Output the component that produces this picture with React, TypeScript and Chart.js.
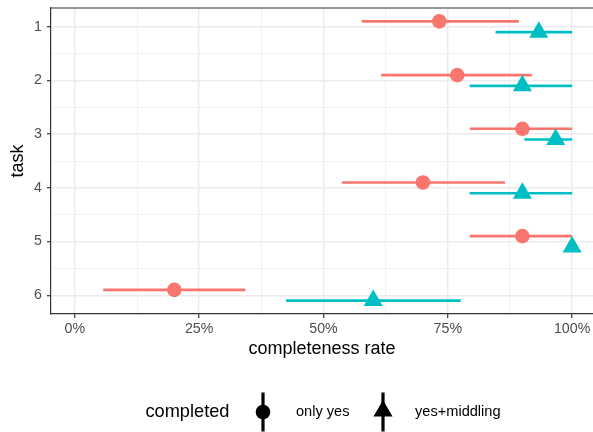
import { useEffect, useRef } from "react";
import { Chart, registerables } from "chart.js";

Chart.register(...registerables);

// ---- data ----
const tasks = [1, 2, 3, 4, 5, 6];
const seriesNames = ["only yes", "yes+middling"];
const onlyYes = [0.733, 0.769, 0.9, 0.7, 0.9, 0.2];
const onlyYesLow = [0.577, 0.616, 0.794, 0.537, 0.794, 0.057];
const onlyYesHigh = [0.893, 0.919, 1.0, 0.865, 1.0, 0.343];
const yesMiddling = [0.933, 0.9, 0.967, 0.9, 1.0, 0.6];
const yesMiddlingLow = [0.846, 0.794, 0.904, 0.794, 1.0, 0.425];
const yesMiddlingHigh = [1.0, 1.0, 1.0, 1.0, 1.0, 0.776];
const xMajorTicks = [0, 0.25, 0.5, 0.75, 1];
const xMinorTicks = [0.125, 0.375, 0.625, 0.875];
const yMinorTicks = [1.5, 2.5, 3.5, 4.5, 5.5];
const legendTitle = "completed";
const xTitle = "completeness rate";
const yTitle = "task";

const FONT = "'Liberation Sans', Arial, Helvetica, sans-serif";
const RED = "#F8766D";
const TEAL = "#00BFC4";
const DODGE = 0.1;

const isMajorX = (v: number) => xMajorTicks.some((t) => Math.abs(t - v) < 1e-9);
const isMajorY = (v: number) => tasks.some((t) => Math.abs(t - v) < 1e-9);

const errorBarPlugin = {
  id: "errorBars",
  beforeDatasetsDraw(chart: any) {
    const { ctx, scales, chartArea } = chart;
    const xs = scales.x;
    const ys = scales.y;
    ctx.save();
    ctx.beginPath();
    ctx.rect(chartArea.left, chartArea.top, chartArea.right - chartArea.left, chartArea.bottom - chartArea.top);
    ctx.clip();
    chart.data.datasets.forEach((ds: any) => {
      ctx.strokeStyle = ds.backgroundColor;
      ctx.lineWidth = 2.6;
      ctx.lineCap = "butt";
      ds.data.forEach((p: any) => {
        if (p.hi - p.lo <= 0) return;
        const py = ys.getPixelForValue(p.y);
        ctx.beginPath();
        ctx.moveTo(xs.getPixelForValue(p.lo), py);
        ctx.lineTo(xs.getPixelForValue(p.hi), py);
        ctx.stroke();
      });
    });
    ctx.restore();
  },
};

const framePlugin = {
  id: "frameAndLegend",
  afterDraw(chart: any) {
    const { ctx, chartArea } = chart;
    ctx.save();
    // top panel border
    ctx.strokeStyle = "#333333";
    ctx.lineWidth = 1.2;
    ctx.beginPath();
    ctx.moveTo(chartArea.left, chartArea.top);
    ctx.lineTo(chartArea.right, chartArea.top);
    ctx.stroke();

    // legend
    const cy = 412;
    ctx.fillStyle = "#000000";
    ctx.textBaseline = "middle";
    ctx.textAlign = "left";
    ctx.font = `18.2px ${FONT}`;
    ctx.fillText(legendTitle, 145.5, cy);

    ctx.strokeStyle = "#000000";
    ctx.lineWidth = 3.2;
    // key 1
    ctx.beginPath();
    ctx.moveTo(263, cy - 19.5);
    ctx.lineTo(263, cy + 19.5);
    ctx.stroke();
    ctx.beginPath();
    ctx.arc(263, cy, 7.3, 0, Math.PI * 2);
    ctx.fill();
    // key 2
    ctx.beginPath();
    ctx.moveTo(383, cy - 19.5);
    ctx.lineTo(383, cy + 19.5);
    ctx.stroke();
    const r = 11;
    ctx.beginPath();
    for (let i = 0; i < 3; i++) {
      const a = (i * 2 * Math.PI) / 3;
      const px = 383 + Math.sin(a) * r;
      const py = cy - 1 - Math.cos(a) * r;
      if (i === 0) ctx.moveTo(px, py);
      else ctx.lineTo(px, py);
    }
    ctx.closePath();
    ctx.fill();

    ctx.font = `14.6px ${FONT}`;
    ctx.fillText(seriesNames[0], 296, cy);
    ctx.fillText(seriesNames[1], 415, cy);
    ctx.restore();
  },
};

export default function App() {
  const canvasRef = useRef<HTMLCanvasElement | null>(null);

  useEffect(() => {
    const canvas = canvasRef.current;
    if (!canvas) return;
    const chart = new Chart(canvas, {
      type: "scatter",
      data: {
        datasets: [
          {
            label: seriesNames[0],
            data: tasks.map((t, i) => ({ x: onlyYes[i], y: t - DODGE, lo: onlyYesLow[i], hi: onlyYesHigh[i] })),
            backgroundColor: RED,
            borderWidth: 0,
            pointStyle: "circle",
            pointRadius: 7.3,
          },
          {
            label: seriesNames[1],
            data: tasks.map((t, i) => ({ x: yesMiddling[i], y: t + DODGE, lo: yesMiddlingLow[i], hi: yesMiddlingHigh[i] })),
            backgroundColor: TEAL,
            borderWidth: 0,
            pointStyle: "triangle",
            pointRadius: 11,
          },
        ] as any,
      },
      options: {
        responsive: false,
        animation: false,
        devicePixelRatio: 1,
        events: [],
        layout: { autoPadding: false, padding: { top: 8, right: 0, bottom: 0, left: 0 } },
        plugins: {
          legend: { display: false },
          tooltip: { enabled: false },
        },
        scales: {
          x: {
            type: "linear",
            min: -0.048,
            max: 1.042,
            afterBuildTicks(scale: any) {
              scale.ticks = [...xMajorTicks, ...xMinorTicks].sort((a, b) => a - b).map((value) => ({ value }));
            },
            afterFit(scale: any) {
              scale.height = 118;
              scale.paddingLeft = 0;
              scale.paddingRight = 0;
              scale.paddingTop = 0;
              scale.paddingBottom = 0;
            },
            ticks: {
              autoSkip: false,
              maxRotation: 0,
              padding: 3,
              color: "#4D4D4D",
              font: { family: FONT, size: 14.2 },
              callback: (v: any) => (isMajorX(Number(v)) ? `${Math.round(Number(v) * 100)}%` : ""),
            },
            grid: {
              color: (c: any) => "#EBEBEB",
              lineWidth: (c: any) => (c.tick && isMajorX(c.tick.value) ? 1.4 : 0.7),
              tickLength: 4,
              tickColor: (c: any) => (c.tick && isMajorX(c.tick.value) ? "#333333" : "rgba(0,0,0,0)"),
              tickWidth: 1.2,
            },
            border: { display: true, color: "#333333", width: 1.2 },
            title: {
              display: true,
              text: xTitle,
              color: "#000000",
              font: { family: FONT, size: 18 },
              padding: { top: 0, bottom: 72 },
            },
          },
          y: {
            type: "linear",
            min: 0.65,
            max: 6.35,
            reverse: true,
            afterBuildTicks(scale: any) {
              scale.ticks = [...tasks, ...yMinorTicks].sort((a, b) => a - b).map((value) => ({ value }));
            },
            afterFit(scale: any) {
              scale.width = 51;
              scale.paddingLeft = 0;
              scale.paddingRight = 0;
              scale.paddingTop = 0;
              scale.paddingBottom = 0;
            },
            ticks: {
              autoSkip: false,
              padding: 5,
              color: "#4D4D4D",
              font: { family: FONT, size: 14.2 },
              callback: (v: any) => (isMajorY(Number(v)) ? String(Number(v)) : ""),
            },
            grid: {
              color: (c: any) => "#EBEBEB",
              lineWidth: (c: any) => (c.tick && isMajorY(c.tick.value) ? 1.4 : 0.7),
              tickLength: 4,
              tickColor: (c: any) => (c.tick && isMajorY(c.tick.value) ? "#333333" : "rgba(0,0,0,0)"),
              tickWidth: 1.2,
            },
            border: { display: true, color: "#333333", width: 1.2 },
            title: {
              display: true,
              text: yTitle,
              color: "#000000",
              font: { family: FONT, size: 18 },
              padding: { top: 7, bottom: 0 },
            },
          },
        },
      } as any,
      plugins: [errorBarPlugin, framePlugin],
    });
    return () => chart.destroy();
  }, []);

  return (
    <div style={{ position: "fixed", left: 0, top: 0, width: 593, height: 432, background: "#ffffff" }}>
      <canvas ref={canvasRef} width={593} height={432} style={{ display: "block" }} />
    </div>
  );
}
